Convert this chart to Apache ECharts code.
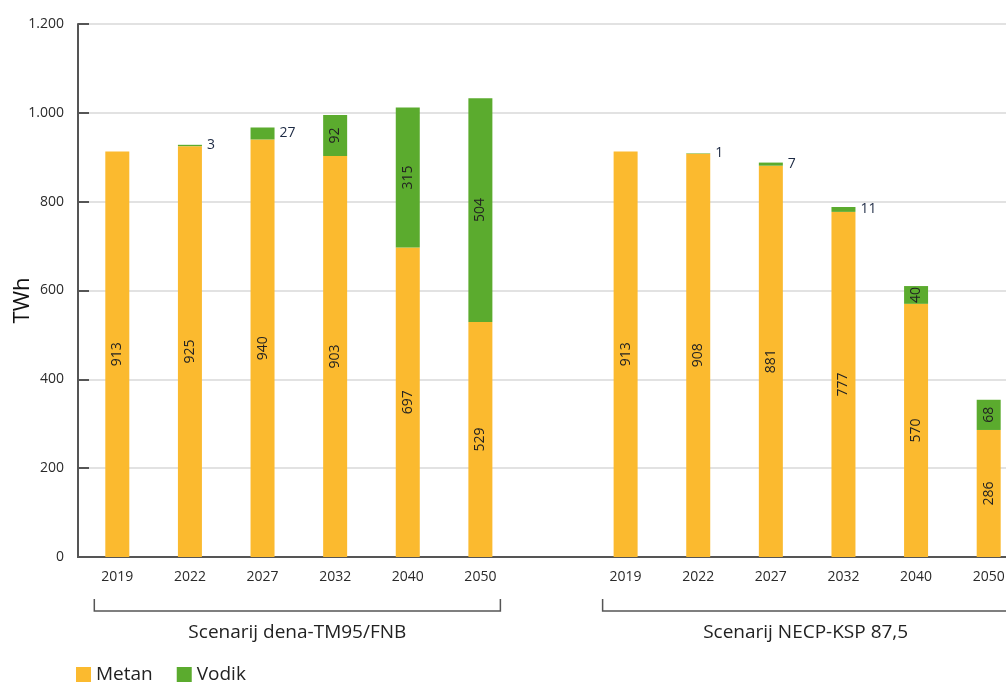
<!DOCTYPE html>
<html>
<head>
<meta charset="utf-8">
<script src="https://cdn.jsdelivr.net/npm/echarts@6/dist/echarts.min.js"></script>
<style>
html,body{margin:0;padding:0;background:#fff;}
#c{width:1006px;height:686px;}
</style>
</head>
<body>
<div id="c"></div>
<script>
const categories = ['2019','2022','2027','2032','2040','2050','','2019','2022','2027','2032','2040','2050'];
const metan = [913,925,940,903,697,529,null,913,908,881,777,570,286];
const vodik = [0,3,27,92,315,504,null,0,1,7,11,40,68];
const groups = [
  {name:'Scenarij dena-TM95/FNB', from:0, to:5},
  {name:'Scenarij NECP-KSP 87,5', from:7, to:12}
];
const FONT = '"Open Sans", sans-serif';
const C_METAN = '#FBBA2F';
const C_VODIK = '#5BAB2E';

const vodikData = vodik.map(v => {
  if (v === null) return null;
  if (v === 0) return {value: 0, label: {show: false}};
  if (v < 30) return {value: v, label: {show: true, position: 'right', rotate: 0, distance: 5, color: '#1d2a44'}};
  return {value: v};
});

const chart = echarts.init(document.getElementById('c'), null, {renderer: 'canvas'});
chart.setOption({
  animation: false,
  textStyle: {fontFamily: FONT},
  grid: {left: 81, top: 24, bottom: 129, width: 944, containLabel: false, outerBoundsMode: 'none'},
  legend: {
    left: 71, top: 660, itemWidth: 15, itemHeight: 15, itemGap: 24,
    icon: 'rect',
    textStyle: {fontSize: 19, color: '#222', fontFamily: FONT},
    data: ['Metan', 'Vodik']
  },
  xAxis: {
    type: 'category', data: categories,
    axisLine: {lineStyle: {color: '#555', width: 2}},
    axisTick: {show: false},
    axisLabel: {fontSize: 14, color: '#2a2a2a', margin: 13, fontFamily: FONT}
  },
  yAxis: {
    type: 'value', min: 0, max: 1200, interval: 200, offset: 3,
    name: 'TWh', nameLocation: 'middle', nameGap: 44, nameRotate: 90, nameMoveOverlap: false,
    nameTextStyle: {fontSize: 22, color: '#111', fontFamily: FONT, padding: [0, 20, 0, 0]},
    axisLine: {show: true, lineStyle: {color: '#555', width: 2}},
    axisTick: {show: true, inside: true, length: 11, lineStyle: {color: '#555', width: 2}},
    splitLine: {lineStyle: {color: '#d9d9d9', width: 1.5}},
    axisLabel: {
      fontSize: 14, color: '#2a2a2a', margin: 14, fontFamily: FONT,
      formatter: v => String(v).replace(/\B(?=(\d{3})+(?!\d))/g, '.')
    }
  },
  series: [
    {
      name: 'Metan', type: 'bar', stack: 'a', barWidth: 24, data: metan,
      itemStyle: {color: C_METAN},
      label: {show: true, position: 'inside', rotate: 90, fontSize: 14, color: '#222', fontFamily: FONT}
    },
    {
      name: 'Vodik', type: 'bar', stack: 'a', barWidth: 24, data: vodikData,
      itemStyle: {color: C_VODIK},
      label: {show: true, position: 'inside', rotate: 90, fontSize: 14, color: '#222', fontFamily: FONT}
    }
  ]
});

function px(i) { return chart.convertToPixel({xAxisIndex: 0}, i); }
const elements = [];
const yBr = 611, yTop = 599;
groups.forEach(g => {
  const x1 = px(g.from) - 23, x2 = px(g.to) + 20;
  elements.push({
    type: 'polyline', silent: true,
    shape: {points: [[x1, yTop], [x1, yBr], [x2, yBr], [x2, yTop]]},
    style: {stroke: '#555', lineWidth: 1.5, fill: null}
  });
  elements.push({
    type: 'text', silent: true,
    x: (x1 + x2) / 2, y: 633,
    style: {text: g.name, fontSize: 19, fill: '#222', fontFamily: FONT, align: 'center', verticalAlign: 'middle'}
  });
});
// close the 3px gap between the offset y-axis line and the x-axis line
const y0 = chart.convertToPixel({yAxisIndex: 0}, 0);
elements.push({
  type: 'line', silent: true,
  shape: {x1: 77, y1: y0, x2: 82, y2: y0},
  style: {stroke: '#555', lineWidth: 2}
});
chart.setOption({graphic: {elements: elements}});
</script>
</body>
</html>
